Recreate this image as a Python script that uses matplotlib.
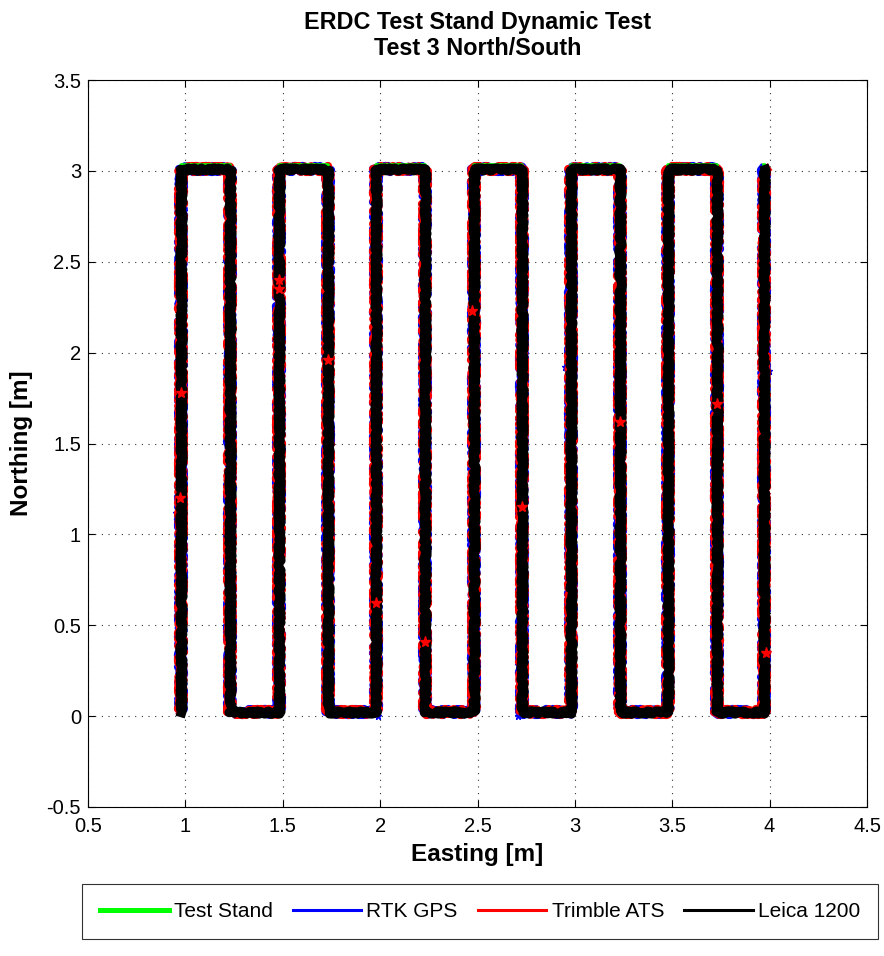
import matplotlib
matplotlib.use("Agg")
import matplotlib.pyplot as plt

plt.rcParams['font.family'] = ['Liberation Sans', 'DejaVu Sans']

# serpentine waypoints (easting of each pass, top and bottom northing)
lanes = [0.98, 1.23, 1.48, 1.73, 1.98, 2.23, 2.48, 2.73, 2.98, 3.23, 3.48, 3.73, 3.97]
top_n = 3.01
bot_n = 0.02
stand_top = 3.035

# a few stray fixes visible off the track
rtk_x = [0.95, 0.96, 1.46, 1.46, 1.96, 2.46, 2.71, 2.95, 3.21, 3.46, 3.955, 3.995, 1.99, 2.71, 3.96, 0.995]
rtk_y = [1.12, 2.75, 2.55, 1.35, 1.92, 1.55, 0.28, 1.92, 0.88, 1.02, 0.45, 1.9, 0.0, 0.0, 3.0, 2.78]
ats_x = [1.48, 1.48, 2.47, 1.98, 0.98, 0.97, 3.98, 3.73, 2.73, 1.73, 3.23, 2.23]
ats_y = [2.40, 2.35, 2.23, 0.62, 1.78, 1.20, 0.35, 1.72, 1.15, 1.96, 1.62, 0.41]


def track(xs, top, bot):
    px, py = [], []
    for i, x in enumerate(xs):
        if i % 2 == 0:
            px += [x, x]
            py += [bot, top]
        else:
            px += [x, x]
            py += [top, bot]
    return px, py


fig = plt.figure(figsize=(8.84, 9.56), dpi=100)
ax = fig.add_axes([88 / 884, 1 - 807 / 956, (867 - 88) / 884, (807 - 80) / 956])

sx, sy = track(lanes, stand_top, bot_n)
tx, ty = track(lanes, top_n, bot_n)

ax.plot(sx, sy, color='#00ff00', lw=2.6, zorder=4.5)
l_rtk, = ax.plot(tx, ty, color='blue', lw=6.0, zorder=3)
l_rtk.set_sketch_params(scale=3.0, length=4, randomness=12)
l_ats, = ax.plot(tx, ty, color='red', lw=6.0, zorder=4)
l_ats.set_sketch_params(scale=3.0, length=3, randomness=12)
l_lei, = ax.plot(tx, ty, color='black', lw=6.8, zorder=5)
l_lei.set_sketch_params(scale=1.4, length=3, randomness=10)
ax.plot(rtk_x, rtk_y, '*', color='blue', ms=5, zorder=2.5)
ax.plot(ats_x, ats_y, '*', color='red', ms=8, zorder=5.5)

ax.set_xlim(0.5, 4.5)
ax.set_ylim(-0.5, 3.5)
ax.set_xticks([0.5, 1, 1.5, 2, 2.5, 3, 3.5, 4, 4.5])
ax.set_xticklabels(['0.5', '1', '1.5', '2', '2.5', '3', '3.5', '4', '4.5'])
ax.set_yticks([-0.5, 0, 0.5, 1, 1.5, 2, 2.5, 3, 3.5])
ax.set_yticklabels(['-0.5', '0', '0.5', '1', '1.5', '2', '2.5', '3', '3.5'])
ax.tick_params(direction='in', labelsize=14.5, top=True, right=True, length=5)
ax.tick_params(axis='x', pad=7)
ax.tick_params(axis='y', pad=5)
ax.grid(True, linestyle=(0, (1, 5)), color='#333333', lw=0.8)
ax.set_axisbelow(True)
for s in ax.spines.values():
    s.set_linewidth(0.8)

ax.set_title('ERDC Test Stand Dynamic Test\nTest 3 North/South',
             fontsize=16.8, fontweight='bold', pad=18, linespacing=1.15)
ax.set_xlabel('Easting [m]', fontsize=17.5, fontweight='bold', labelpad=5)
ax.set_ylabel('Northing [m]', fontsize=17.5, fontweight='bold', labelpad=10)

h = [plt.Line2D([], [], color='#00ff00', lw=3.6),
     plt.Line2D([], [], color='blue', lw=2.2),
     plt.Line2D([], [], color='red', lw=2.2),
     plt.Line2D([], [], color='black', lw=2.2)]
leg = fig.legend(h, ['Test Stand', 'RTK GPS', 'Trimble ATS', 'Leica 1200'],
                 loc='center', ncol=4, fontsize=15,
                 bbox_to_anchor=(480 / 884, 1 - 911.5 / 956),
                 frameon=True, fancybox=False, edgecolor='black',
                 handlelength=3.3, handletextpad=0.25, columnspacing=0.95,
                 borderpad=0.85)
leg.get_frame().set_linewidth(0.8)

fig.savefig('out.png', dpi=100)
